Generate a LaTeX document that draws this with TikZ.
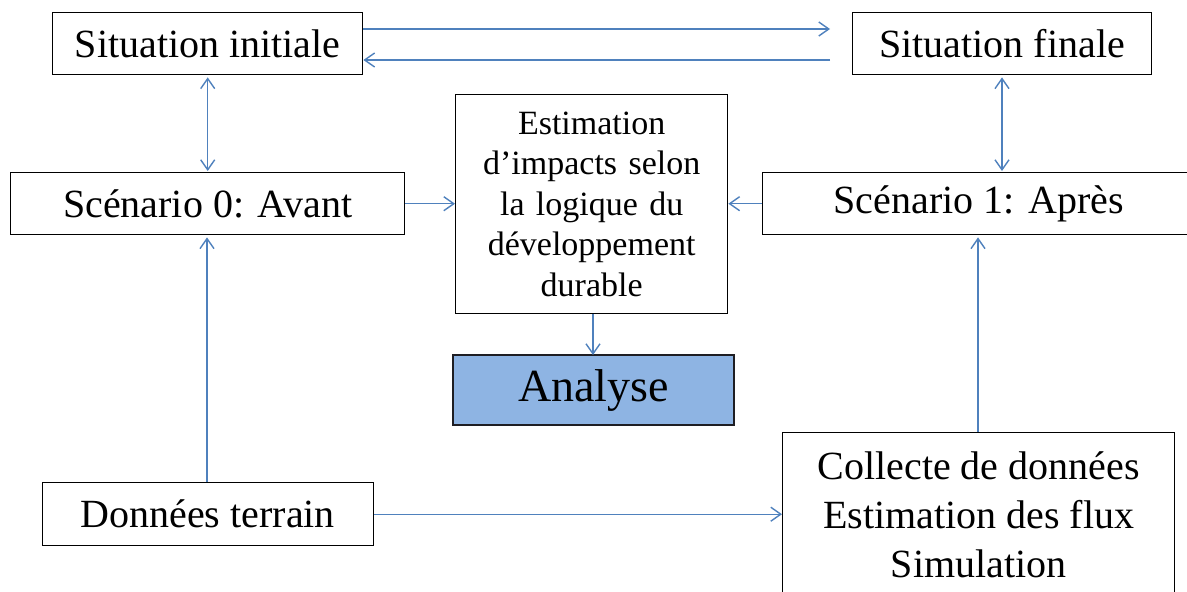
\documentclass[tikz,border=0pt]{standalone}
\usepackage{fontspec}
\setmainfont{Liberation Serif}
\usetikzlibrary{arrows.meta}
\definecolor{conn}{HTML}{4F81BD}
\definecolor{anafill}{HTML}{8EB4E3}
\tikzset{
  box/.style={draw=black, line width=1.4pt, fill=white, inner sep=0pt, align=center, anchor=north west},
  link/.style={draw=conn, line width=1.4pt, -{Straight Barb[length=10pt,width=14pt,line width=1.4pt]}},
  dlink/.style={draw=conn, line width=1.4pt, {Straight Barb[length=10pt,width=14pt,line width=1.4pt]}-{Straight Barb[length=10pt,width=14pt,line width=1.4pt]}},
  bigtext/.style={font=\fontsize{40}{49}\selectfont},
}
\begin{document}
\begin{tikzpicture}[x=1pt,y=-1pt]
\useasboundingbox (0,0) rectangle (1187,592);
\clip (0,0) rectangle (1187,592);
\fill[white] (0,0) rectangle (1187,592);
% boxes
\node[box, bigtext, minimum width=310pt, minimum height=62pt] (si) at (52,12) {Situation initiale};
\node[box, bigtext, minimum width=299pt, minimum height=62pt] (sf) at (852,12) {Situation finale};
\node[box, bigtext, minimum width=394pt, minimum height=62pt] (s0) at (10,172) {Scénario 0: Avant};
\node[box, bigtext, minimum width=432pt, minimum height=62pt] (s1) at (762,172) {Scénario 1: Après};
\node[box, font=\fontsize{34}{40.5}\selectfont, minimum width=272pt, minimum height=219pt, text width=260pt] (est) at (455,94) {Estimation\\d’impacts selon\\la logique du\\développement\\durable};
\node[box, fill=anafill, line width=2pt, draw={rgb,255:red,30;green,30;blue,35}, font=\fontsize{46}{50}\selectfont, minimum width=281pt, minimum height=70pt] (ana) at (452,354) {Analyse};
\node[box, bigtext, minimum width=331pt, minimum height=63pt] (dt) at (41.5,482) {Données terrain};
\node[box, bigtext, minimum width=392pt, minimum height=164pt] (col) at (782,432) {Collecte de données\\Estimation des flux\\Simulation};
% connectors
\coordinate (topR) at (830,29);
\coordinate (botR) at (830,60);
\draw[link] (si.east |- topR) -- (topR);
\draw[link] (botR) -- (si.east |- botR);
\draw[dlink] ([yshift=-2pt]si.south) -- ([yshift=1pt]s0.north -| si.south);
\draw[dlink] ([xshift=150pt,yshift=-2pt]sf.south west) -- ([xshift=150pt,yshift=1pt]sf.south west |- s1.north);
\draw[link] (s0.east) -- (est.west |- s0.east);
\draw[link] (s1.west) -- (est.east |- s1.west);
\draw[link] ([xshift=138pt]est.south west) -- ([xshift=141pt,yshift=-1pt]ana.north west);
\draw[link] ([xshift=165.5pt]dt.north west) -- ([xshift=165.5pt,yshift=-2pt]dt.north west |- s0.south);
\draw[link] ([xshift=196pt]col.north west) -- ([xshift=196pt,yshift=-2pt]col.north west |- s1.south);
\draw[link] (dt.east) -- (col.west |- dt.east);
\end{tikzpicture}
\end{document}
